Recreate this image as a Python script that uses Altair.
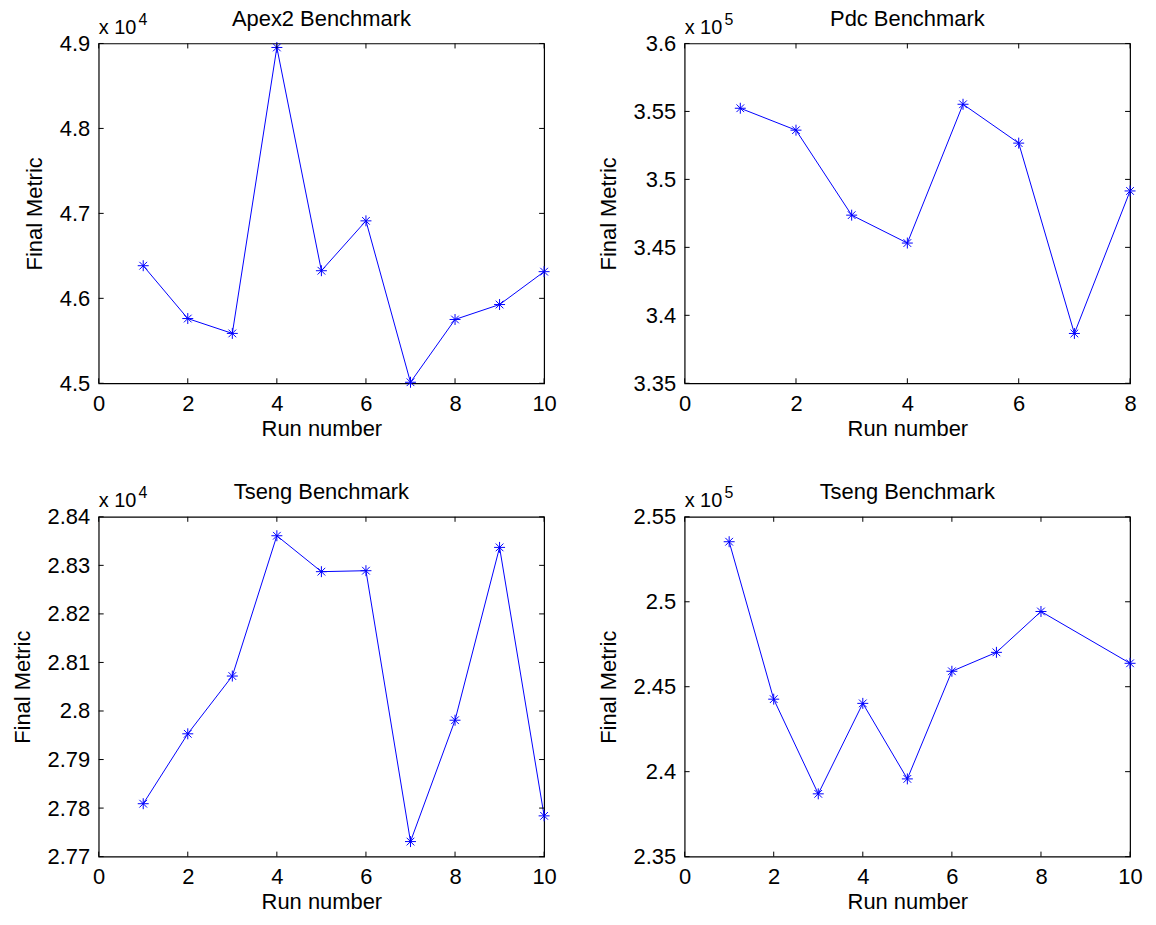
import altair as alt
import pandas as pd

FONT = "Liberation Sans"
BLUE = "#0000ff"
W, H = 447, 341
STAR = "M-1,0L1,0M0,-1L0,1M-0.7,-0.7L0.7,0.7M-0.7,0.7L0.7,-0.7"

# ---- data ----
apex_runs = [1, 2, 3, 4, 5, 6, 7, 8, 9, 10]
apex_vals = [46384, 45762, 45587, 48953, 46325, 46912, 45012, 45751, 45927, 46314]

pdc_runs = [1, 2, 3, 4, 5, 6, 7, 8]
pdc_vals = [355235, 353622, 347370, 345317, 355528, 352669, 338666, 349150]

tseng1_runs = [1, 2, 3, 4, 5, 6, 7, 8, 9, 10]
tseng1_vals = [27809, 27953, 28072, 28361, 28287, 28289, 27731, 27981, 28337, 27784]

tseng2_runs = [1, 2, 3, 4, 5, 6, 7, 8, 10]
tseng2_vals = [253534, 244267, 238695, 244020, 239575, 245909, 247023, 249428, 246378]

x_ticks_10 = [0, 2, 4, 6, 8, 10]
x_ticks_8 = [0, 2, 4, 6, 8]
apex_yticks = [45000, 46000, 47000, 48000, 49000]
pdc_yticks = [335000, 340000, 345000, 350000, 355000, 360000]
tseng1_yticks = [27700, 27800, 27900, 28000, 28100, 28200, 28300, 28400]
tseng2_yticks = [235000, 240000, 245000, 250000, 255000]

titles = ["Apex2 Benchmark", "Pdc Benchmark", "Tseng Benchmark", "Tseng Benchmark"]


def panel(title, xs, ys, xdom, xticks, ydom, yticks, exp):
    df = pd.DataFrame({"x": xs, "y": ys})
    xsc = alt.Scale(domain=xdom, nice=False, zero=False)
    ysc = alt.Scale(domain=ydom, nice=False, zero=False)
    xax = alt.Axis(values=xticks, title="Run number", labelPadding=10,
                   titlePadding=4, labelFlush=False)
    yax = alt.Axis(values=yticks, title="Final Metric", labelPadding=9,
                   titlePadding=13, labelFlush=False,
                   labelExpr=f"format(datum.value/{10 ** exp}, '.3~f')")
    X = alt.X("x:Q", scale=xsc, axis=xax)
    Y = alt.Y("y:Q", scale=ysc, axis=yax)

    base = alt.Chart(df)
    line = base.mark_line(color=BLUE, strokeWidth=1).encode(x=X, y=Y)
    pts = base.mark_point(shape=STAR, size=121, color=BLUE, filled=False,
                          strokeWidth=1, opacity=1).encode(x=X, y=Y)

    xt = alt.Chart(pd.DataFrame({"x": xticks}))
    yt = alt.Chart(pd.DataFrame({"y": yticks}))
    tb = xt.mark_rule(color="black", strokeWidth=1).encode(
        x=X, y=alt.value(H), y2=alt.value(H - 5))
    tt = xt.mark_rule(color="black", strokeWidth=1).encode(
        x=X, y=alt.value(0), y2=alt.value(5))
    tl = yt.mark_rule(color="black", strokeWidth=1).encode(
        y=Y, x=alt.value(0), x2=alt.value(5))
    tr = yt.mark_rule(color="black", strokeWidth=1).encode(
        y=Y, x=alt.value(W), x2=alt.value(W - 5))

    ex = alt.Chart(pd.DataFrame({"t": ["x 10"]})).mark_text(
        align="left", baseline="alphabetic", fontSize=20, font=FONT,
        color="black").encode(text="t:N", x=alt.value(0), y=alt.value(-10))
    sup = alt.Chart(pd.DataFrame({"t": [str(exp)]})).mark_text(
        align="left", baseline="alphabetic", fontSize=16, font=FONT,
        color="black").encode(text="t:N", x=alt.value(40), y=alt.value(-19))
    ttl = alt.Chart(pd.DataFrame({"t": [title]})).mark_text(
        align="center", baseline="alphabetic", fontSize=22, font=FONT,
        color="black").encode(text="t:N", x=alt.value(W / 2), y=alt.value(-18))

    return alt.layer(line, pts, tb, tt, tl, tr, ex, sup, ttl).properties(
        width=W, height=H)


p1 = panel(titles[0], apex_runs, apex_vals, [0, 10], x_ticks_10,
           [45000, 49000], apex_yticks, 4)
p2 = panel(titles[1], pdc_runs, pdc_vals, [0, 8], x_ticks_8,
           [335000, 360000], pdc_yticks, 5)
p3 = panel(titles[2], tseng1_runs, tseng1_vals, [0, 10], x_ticks_10,
           [27700, 28400], tseng1_yticks, 4)
p4 = panel(titles[3], tseng2_runs, tseng2_vals, [0, 10], x_ticks_10,
           [235000, 255000], tseng2_yticks, 5)

chart = alt.concat(p1, p2, p3, p4, columns=2,
                   spacing={"row": 134, "column": 141}, bounds="flush").properties(
    padding={"left": 2, "top": -3, "right": 5, "bottom": 5},
    background="white",
).configure_view(stroke="black", strokeWidth=1.2).configure_axis(
    grid=False, ticks=False, domain=False, labelColor="black",
    titleColor="black", labelFont=FONT, titleFont=FONT, labelFontSize=22,
    titleFontSize=22, titleFontWeight="normal",
)

chart.save("out.html", embed_options={"renderer": "svg", "actions": False})
